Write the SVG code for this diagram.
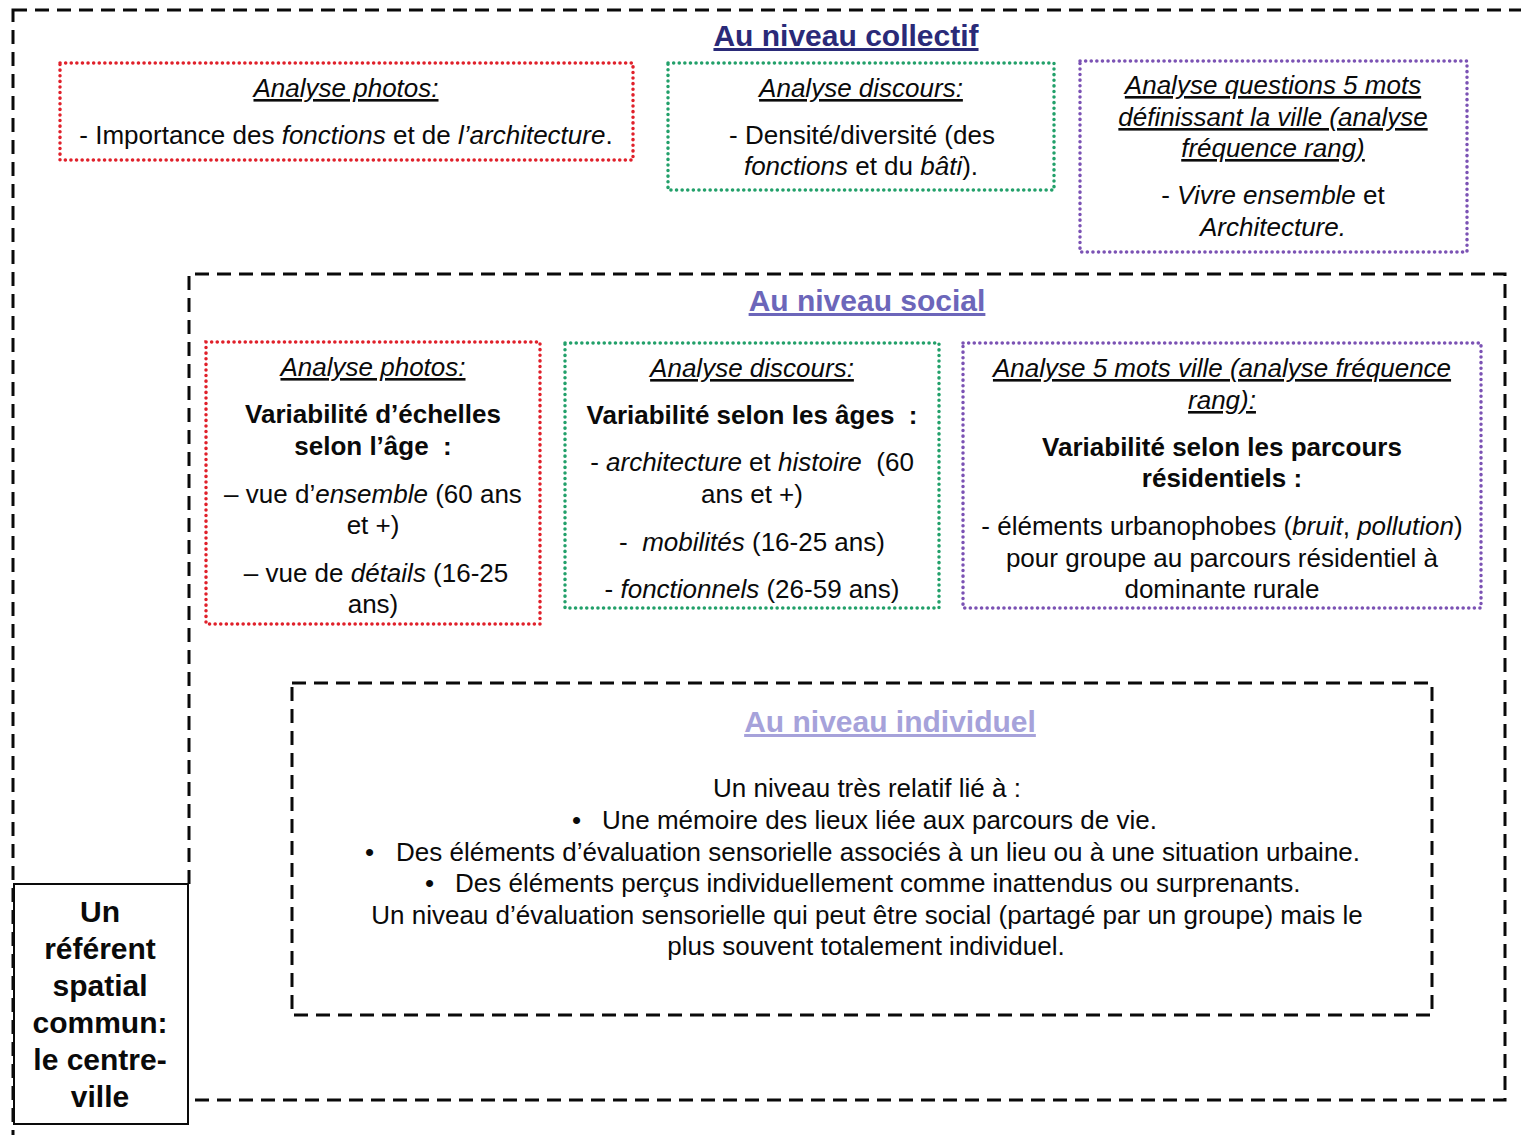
<svg xmlns="http://www.w3.org/2000/svg" width="1521" height="1135" viewBox="0 0 1521 1135">
<style>
text{font-family:"Liberation Sans",Arial,sans-serif;font-size:26px;fill:#0a0a0a;text-anchor:middle}
.b{font-weight:bold}
.i{font-style:italic}
.u{text-decoration:underline}
.t{font-size:30px;font-weight:bold;text-decoration:underline}
.dash{fill:none;stroke:#0a0a0a;stroke-width:3;stroke-dasharray:14 8}
.dot{fill:none;stroke-width:3.5;stroke-linecap:round;stroke-dasharray:0.1 5.5}
.red{stroke:#e0202a}
.grn{stroke:#22a06a}
.pur{stroke:#7b52b4}
.l{text-anchor:start}
</style>
<rect width="1521" height="1135" fill="#fff"/>
<g id="collectif">
<rect class="dash" x="13" y="10" width="1540" height="1150"/>
<text class="t" x="846" y="46" style="fill:#2a2a78">Au niveau collectif</text>
</g>
<g id="collectif-photos">
<rect class="dot red" x="60" y="63" width="573" height="97"/>
<text class="i u" x="346" y="97">Analyse photos:</text>
<text x="346" y="144">- Importance des <tspan class="i">fonctions</tspan> et de <tspan class="i">l’architecture</tspan>.</text>
</g>
<g id="collectif-discours">
<rect class="dot grn" x="668" y="63" width="386" height="127"/>
<text class="i u" x="861" y="97">Analyse discours:</text>
<text x="862" y="144">- Densité/diversité (des</text>
<text x="861" y="175"><tspan class="i">fonctions</tspan> et du <tspan class="i">bâti</tspan>).</text>
</g>
<g id="collectif-5mots">
<rect class="dot pur" x="1080" y="61" width="387" height="191"/>
<text class="i u" x="1273" y="94">Analyse questions 5 mots</text>
<text class="i u" x="1273" y="126">définissant la ville (analyse</text>
<text class="i u" x="1273" y="157">fréquence rang)</text>
<text x="1273" y="204">- <tspan class="i">Vivre ensemble</tspan> et</text>
<text class="i" x="1273" y="236">Architecture.</text>
</g>
<g id="social">
<path class="dash" d="M189 884 V274 H1505 V1100 H189"/>
<text class="t" x="867" y="311" style="fill:#6c66ba">Au niveau social</text>
</g>
<g id="social-photos">
<rect class="dot red" x="206" y="342" width="334" height="282"/>
<text class="i u" x="373" y="376">Analyse photos:</text>
<text class="b" x="373" y="423">Variabilité d’échelles</text>
<text class="b" x="373" y="455" xml:space="preserve">selon l’âge  :</text>
<text x="373" y="503">– vue d’<tspan class="i">ensemble</tspan> (60 ans</text>
<text x="373" y="534">et +)</text>
<text x="376" y="582">– vue de <tspan class="i">détails</tspan> (16-25</text>
<text x="373" y="613">ans)</text>
</g>
<g id="social-discours">
<rect class="dot grn" x="565" y="343" width="374" height="265"/>
<text class="i u" x="752" y="377">Analyse discours:</text>
<text class="b" x="752" y="424" xml:space="preserve">Variabilité selon les âges  :</text>
<text x="752" y="471" xml:space="preserve">- <tspan class="i">architecture</tspan> et <tspan class="i">histoire</tspan>  (60</text>
<text x="752" y="503">ans et +)</text>
<text x="752" y="551" xml:space="preserve">-  <tspan class="i">mobilités</tspan> (16-25 ans)</text>
<text x="752" y="598">- <tspan class="i">fonctionnels</tspan> (26-59 ans)</text>
</g>
<g id="social-5mots">
<rect class="dot pur" x="963" y="343" width="518" height="265"/>
<text class="i u" x="1222" y="377">Analyse 5 mots ville (analyse fréquence</text>
<text class="i u" x="1222" y="409">rang):</text>
<text class="b" x="1222" y="456">Variabilité selon les parcours</text>
<text class="b" x="1222" y="487">résidentiels :</text>
<text x="1222" y="535">- éléments urbanophobes (<tspan class="i">bruit</tspan>, <tspan class="i">pollution</tspan>)</text>
<text x="1222" y="567">pour groupe au parcours résidentiel à</text>
<text x="1222" y="598">dominante rurale</text>
</g>
<g id="individuel">
<rect class="dash" x="292" y="683" width="1140" height="332"/>
<text class="t" x="890" y="732" style="fill:#a6a2da">Au niveau individuel</text>
<text x="867" y="797">Un niveau très relatif lié à :</text>
<text class="l" x="572" y="829">•</text>
<text class="l" x="602" y="829">Une mémoire des lieux liée aux parcours de vie.</text>
<text class="l" x="365" y="861">•</text>
<text class="l" x="396" y="861">Des éléments d’évaluation sensorielle associés à un lieu ou à une situation urbaine.</text>
<text class="l" x="425" y="892">•</text>
<text class="l" x="455" y="892">Des éléments perçus individuellement comme inattendus ou surprenants.</text>
<text x="867" y="924">Un niveau d’évaluation sensorielle qui peut être social (partagé par un groupe) mais le</text>
<text x="866" y="955">plus souvent totalement individuel.</text>
</g>
<g id="referent">
<rect x="14" y="884" width="174" height="240" fill="#fff" stroke="#0a0a0a" stroke-width="2"/>
<text class="b" style="font-size:30px" x="100" y="922">Un</text>
<text class="b" style="font-size:30px" x="100" y="959">référent</text>
<text class="b" style="font-size:30px" x="100" y="996">spatial</text>
<text class="b" style="font-size:30px" x="100" y="1033">commun:</text>
<text class="b" style="font-size:30px" x="100" y="1070">le centre-</text>
<text class="b" style="font-size:30px" x="100" y="1107">ville</text>
</g>
<g id="connectors"></g>
</svg>
